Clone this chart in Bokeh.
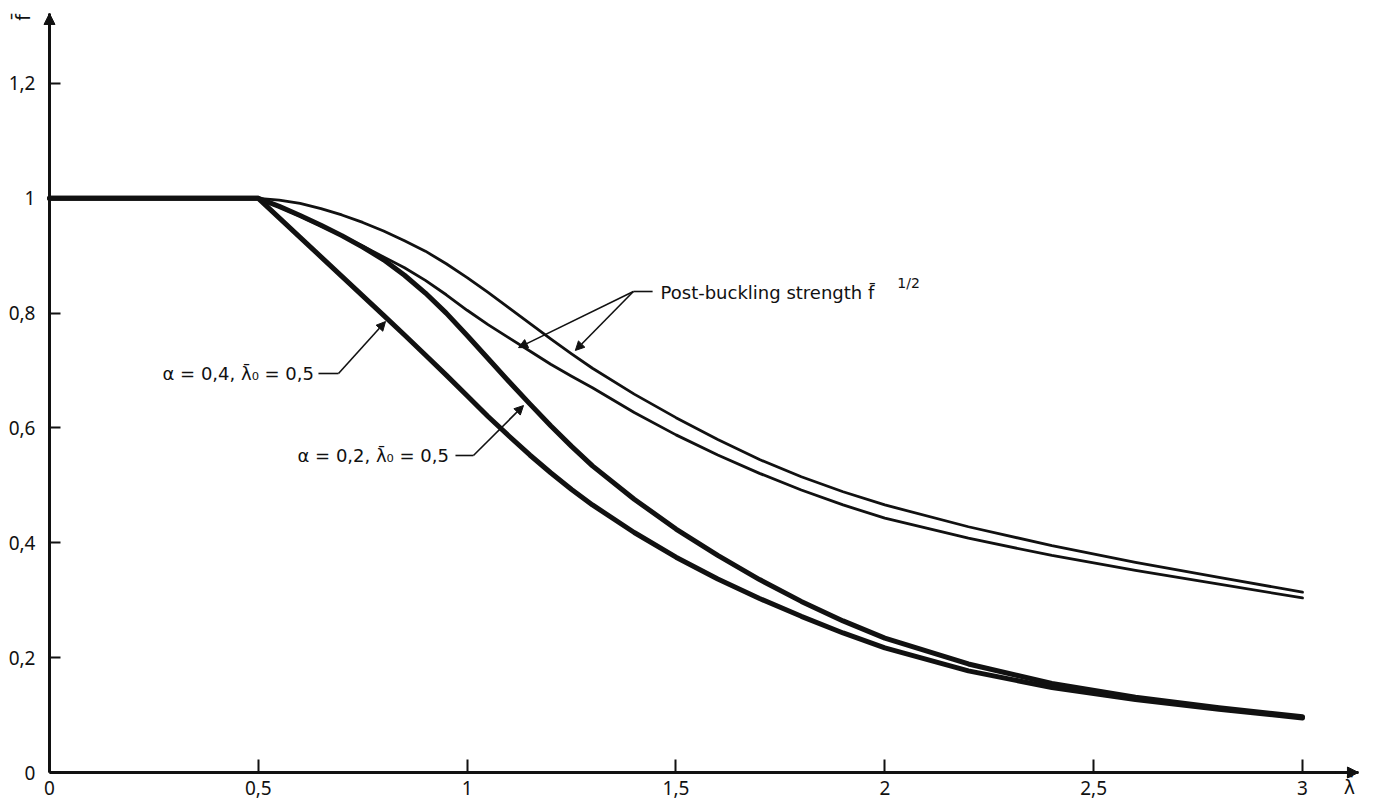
import math
from bokeh.plotting import figure
from bokeh.models import Arrow, NormalHead, Label, FixedTicker, Range1d, LinearAxis
from bokeh.embed import file_html
from bokeh.resources import INLINE

# ---- data ----
lam = [0.0, 0.5, 0.55, 0.6, 0.65, 0.7, 0.75, 0.8, 0.85, 0.9, 0.95, 1.0, 1.05, 1.1, 1.15,
       1.2, 1.25, 1.3, 1.4, 1.5, 1.6, 1.7, 1.8, 1.9, 2.0, 2.2, 2.4, 2.6, 2.8, 3.0]

# buckling curve alpha = 0.4 (lowest thick curve)
chi_a04 = [1.0, 1.0, 0.966, 0.932, 0.898, 0.864, 0.830, 0.796, 0.762, 0.727, 0.692, 0.656,
           0.620, 0.586, 0.553, 0.522, 0.493, 0.466, 0.418, 0.375, 0.337, 0.303, 0.272,
           0.243, 0.217, 0.177, 0.148, 0.127, 0.110, 0.095]

# buckling curve alpha = 0.2 (upper thick curve)
chi_a02 = [1.0, 1.0, 0.986, 0.970, 0.953, 0.935, 0.915, 0.893, 0.866, 0.835, 0.800, 0.761,
           0.721, 0.681, 0.642, 0.604, 0.568, 0.534, 0.476, 0.424, 0.378, 0.336, 0.298,
           0.264, 0.234, 0.189, 0.155, 0.131, 0.113, 0.097]

# post-buckling strength, alpha = 0.2 (upper thin curve)
post_a02 = [1.0, 1.0, 0.997, 0.991, 0.982, 0.971, 0.958, 0.943, 0.926, 0.908, 0.886, 0.862,
            0.836, 0.809, 0.782, 0.755, 0.729, 0.704, 0.659, 0.618, 0.580, 0.545, 0.515,
            0.489, 0.466, 0.428, 0.395, 0.366, 0.340, 0.314]

# post-buckling strength, alpha = 0.4 (lower thin curve)
post_a04 = [1.0, 1.0, 0.985, 0.969, 0.952, 0.935, 0.917, 0.898, 0.879, 0.857, 0.832, 0.805,
            0.780, 0.757, 0.734, 0.711, 0.690, 0.670, 0.627, 0.588, 0.553, 0.521, 0.492,
            0.466, 0.443, 0.408, 0.378, 0.352, 0.328, 0.304]

x_ticks = [0, 0.5, 1, 1.5, 2, 2.5, 3]
x_tick_labels = ["0", "0,5", "1", "1,5", "2", "2,5", "3"]
y_ticks = [0, 0.2, 0.4, 0.6, 0.8, 1, 1.2]
y_tick_labels = ["0", "0,2", "0,4", "0,6", "0,8", "1", "1,2"]

label_post = "Post-buckling strength f\u0304"
label_post_sup = "1/2"
label_a04 = "\u03b1 = 0,4, \u03bb\u0304\u2080 = 0,5"
label_a02 = "\u03b1 = 0,2, \u03bb\u0304\u2080 = 0,5"
x_title = "\u03bb\u0304"
y_title = "f\u0304"

FONT = "Noto Sans"
MARK_FONT = "DejaVu Sans"
INK = "#111111"

# axis extents (where the arrow tips are)
X_END = 3.134
Y_END = 1.3219

p = figure(width=1373, height=801, output_backend="svg", toolbar_location=None,
           x_axis_location=None, y_axis_location=None,
           x_range=Range1d(-0.1173, 3.1700), y_range=Range1d(-0.0505, 1.3445),
           min_border=0)
p.background_fill_color = "white"
p.border_fill_color = "white"
p.outline_line_color = None
p.xgrid.visible = False
p.ygrid.visible = False

xax = LinearAxis(fixed_location=0, bounds=(0, X_END))
yax = LinearAxis(fixed_location=0, bounds=(0, Y_END))
p.add_layout(xax, "below")
p.add_layout(yax, "left")

for ax, ticks, labels, tin in ((xax, x_ticks, x_tick_labels, 13), (yax, y_ticks, y_tick_labels, 11)):
    ax.ticker = FixedTicker(ticks=ticks)
    ax.major_label_overrides = {t: l for t, l in zip(ticks, labels)}
    ax.axis_line_width = 3
    ax.axis_line_color = INK
    ax.major_tick_line_width = 2
    ax.major_tick_line_color = INK
    ax.major_tick_in = tin
    ax.major_tick_out = 0
    ax.minor_tick_line_color = None
    ax.major_label_text_font = FONT
    ax.major_label_text_font_size = "19px"
    ax.major_label_text_color = INK
xax.major_label_standoff = 8
yax.major_label_standoff = 14

# curves
p.line(lam, chi_a04, line_width=5, line_color=INK, line_cap="round", line_join="round")
p.line(lam, chi_a02, line_width=5, line_color=INK, line_cap="round", line_join="round")
p.line(lam, post_a02, line_width=2.8, line_color=INK, line_cap="round", line_join="round")
p.line(lam, post_a04, line_width=2.8, line_color=INK, line_cap="round", line_join="round")

# axis arrow heads
p.add_layout(Arrow(end=NormalHead(size=11, fill_color=INK, line_color=INK, line_width=1),
                   x_start=0, y_start=1.26, x_end=0, y_end=Y_END, line_width=3, line_color=INK))
p.add_layout(Arrow(end=NormalHead(size=11, fill_color=INK, line_color=INK, line_width=1),
                   x_start=3.08, y_start=0, x_end=X_END, y_end=0, line_width=3, line_color=INK))


def text(x, y, s, size="18px", align="left", angle=0.0, font=MARK_FONT):
    p.add_layout(Label(x=x, y=y, text=s, text_font=font, text_font_size=size,
                       text_color=INK, text_align=align, text_baseline="middle", angle=angle))


def pointer(x0, y0, x1, y1):
    p.add_layout(Arrow(end=NormalHead(size=9, fill_color=INK, line_color=INK, line_width=1),
                       x_start=x0, y_start=y0, x_end=x1, y_end=y1,
                       line_width=1.6, line_color=INK))


# Post-buckling strength
text(1.463, 0.836, label_post, size="18px")
text(2.030, 0.853, label_post_sup, size="14px")
p.segment(x0=[1.398], y0=[0.8377], x1=[1.444], y1=[0.8377], line_width=1.6, line_color=INK)
pointer(1.398, 0.8377, 1.123, 0.740)
pointer(1.398, 0.8377, 1.259, 0.735)

# alpha = 0.4
text(0.2706, 0.6949, label_a04)
p.segment(x0=[0.644], y0=[0.6949], x1=[0.692], y1=[0.6949], line_width=1.6, line_color=INK)
pointer(0.692, 0.6949, 0.8045, 0.7854)

# alpha = 0.2
text(0.5938, 0.5521, label_a02)
p.segment(x0=[0.972], y0=[0.5521], x1=[1.015], y1=[0.5521], line_width=1.6, line_color=INK)
pointer(1.015, 0.5521, 1.1349, 0.6391)

# axis titles
text(3.1125, -0.026, x_title, size="19px", align="center")
text(-0.0646, 1.3149, y_title, size="19px", align="center", angle=math.pi / 2)

open("out.html", "w").write(file_html(p, INLINE))
